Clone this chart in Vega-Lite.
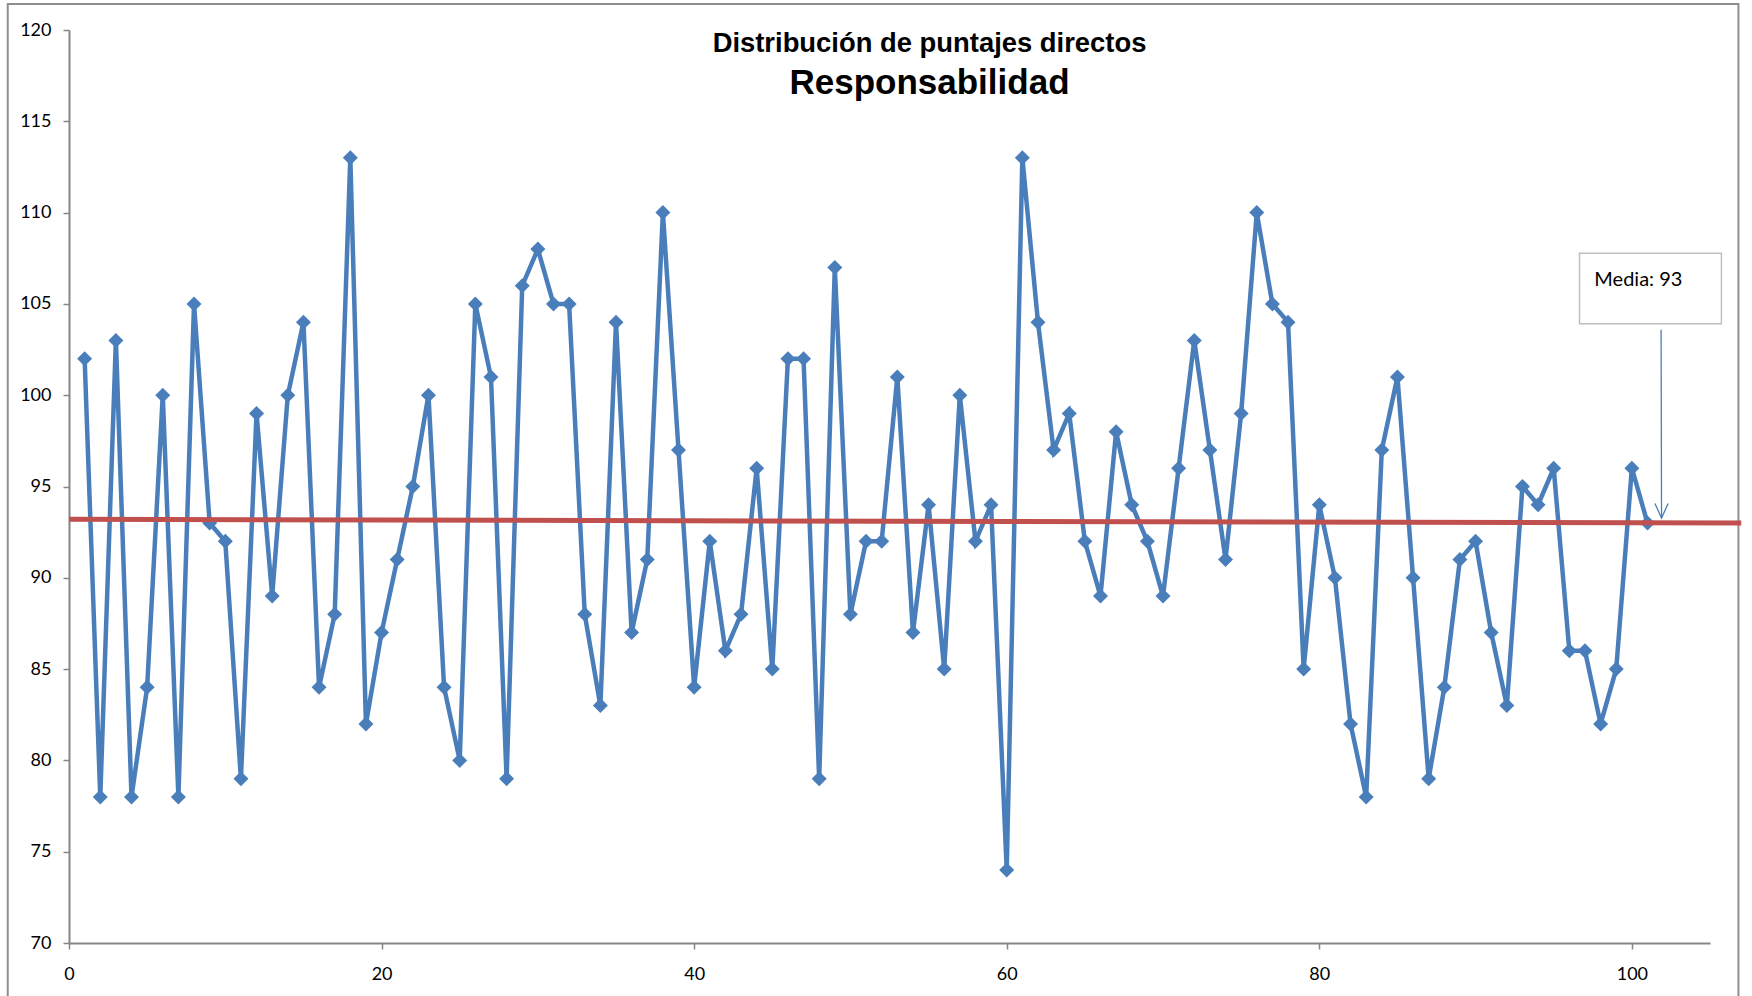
{
  "$schema": "https://vega.github.io/schema/vega-lite/v6.json",
  "width": 1641,
  "height": 913,
  "autosize": {"type": "none"},
  "padding": {"left": 69, "top": 30, "right": 42, "bottom": 53},
  "background": "white",
  "config": {"view": {"stroke": null}, "font": "Lato"},
  "title": {
    "text": "Distribución de puntajes directos",
    "subtitle": "Responsabilidad",
    "anchor": "middle",
    "frame": "group",
    "orient": "top",
    "offset": -98,
    "dx": 40,
    "font": "Liberation Sans",
    "fontSize": 27.4,
    "fontWeight": "bold",
    "color": "black",
    "subtitleFont": "Liberation Sans",
    "subtitleFontSize": 35,
    "subtitleFontWeight": "bold",
    "subtitleColor": "black",
    "subtitlePadding": 8
  },
  "datasets": {
    "scores": [
      {"sujeto": 1, "puntaje": 102}, {"sujeto": 2, "puntaje": 78}, {"sujeto": 3, "puntaje": 103}, {"sujeto": 4, "puntaje": 78}, {"sujeto": 5, "puntaje": 84},
      {"sujeto": 6, "puntaje": 100}, {"sujeto": 7, "puntaje": 78}, {"sujeto": 8, "puntaje": 105}, {"sujeto": 9, "puntaje": 93}, {"sujeto": 10, "puntaje": 92},
      {"sujeto": 11, "puntaje": 79}, {"sujeto": 12, "puntaje": 99}, {"sujeto": 13, "puntaje": 89}, {"sujeto": 14, "puntaje": 100}, {"sujeto": 15, "puntaje": 104},
      {"sujeto": 16, "puntaje": 84}, {"sujeto": 17, "puntaje": 88}, {"sujeto": 18, "puntaje": 113}, {"sujeto": 19, "puntaje": 82}, {"sujeto": 20, "puntaje": 87},
      {"sujeto": 21, "puntaje": 91}, {"sujeto": 22, "puntaje": 95}, {"sujeto": 23, "puntaje": 100}, {"sujeto": 24, "puntaje": 84}, {"sujeto": 25, "puntaje": 80},
      {"sujeto": 26, "puntaje": 105}, {"sujeto": 27, "puntaje": 101}, {"sujeto": 28, "puntaje": 79}, {"sujeto": 29, "puntaje": 106}, {"sujeto": 30, "puntaje": 108},
      {"sujeto": 31, "puntaje": 105}, {"sujeto": 32, "puntaje": 105}, {"sujeto": 33, "puntaje": 88}, {"sujeto": 34, "puntaje": 83}, {"sujeto": 35, "puntaje": 104},
      {"sujeto": 36, "puntaje": 87}, {"sujeto": 37, "puntaje": 91}, {"sujeto": 38, "puntaje": 110}, {"sujeto": 39, "puntaje": 97}, {"sujeto": 40, "puntaje": 84},
      {"sujeto": 41, "puntaje": 92}, {"sujeto": 42, "puntaje": 86}, {"sujeto": 43, "puntaje": 88}, {"sujeto": 44, "puntaje": 96}, {"sujeto": 45, "puntaje": 85},
      {"sujeto": 46, "puntaje": 102}, {"sujeto": 47, "puntaje": 102}, {"sujeto": 48, "puntaje": 79}, {"sujeto": 49, "puntaje": 107}, {"sujeto": 50, "puntaje": 88},
      {"sujeto": 51, "puntaje": 92}, {"sujeto": 52, "puntaje": 92}, {"sujeto": 53, "puntaje": 101}, {"sujeto": 54, "puntaje": 87}, {"sujeto": 55, "puntaje": 94},
      {"sujeto": 56, "puntaje": 85}, {"sujeto": 57, "puntaje": 100}, {"sujeto": 58, "puntaje": 92}, {"sujeto": 59, "puntaje": 94}, {"sujeto": 60, "puntaje": 74},
      {"sujeto": 61, "puntaje": 113}, {"sujeto": 62, "puntaje": 104}, {"sujeto": 63, "puntaje": 97}, {"sujeto": 64, "puntaje": 99}, {"sujeto": 65, "puntaje": 92},
      {"sujeto": 66, "puntaje": 89}, {"sujeto": 67, "puntaje": 98}, {"sujeto": 68, "puntaje": 94}, {"sujeto": 69, "puntaje": 92}, {"sujeto": 70, "puntaje": 89},
      {"sujeto": 71, "puntaje": 96}, {"sujeto": 72, "puntaje": 103}, {"sujeto": 73, "puntaje": 97}, {"sujeto": 74, "puntaje": 91}, {"sujeto": 75, "puntaje": 99},
      {"sujeto": 76, "puntaje": 110}, {"sujeto": 77, "puntaje": 105}, {"sujeto": 78, "puntaje": 104}, {"sujeto": 79, "puntaje": 85}, {"sujeto": 80, "puntaje": 94},
      {"sujeto": 81, "puntaje": 90}, {"sujeto": 82, "puntaje": 82}, {"sujeto": 83, "puntaje": 78}, {"sujeto": 84, "puntaje": 97}, {"sujeto": 85, "puntaje": 101},
      {"sujeto": 86, "puntaje": 90}, {"sujeto": 87, "puntaje": 79}, {"sujeto": 88, "puntaje": 84}, {"sujeto": 89, "puntaje": 91}, {"sujeto": 90, "puntaje": 92},
      {"sujeto": 91, "puntaje": 87}, {"sujeto": 92, "puntaje": 83}, {"sujeto": 93, "puntaje": 95}, {"sujeto": 94, "puntaje": 94}, {"sujeto": 95, "puntaje": 96},
      {"sujeto": 96, "puntaje": 86}, {"sujeto": 97, "puntaje": 86}, {"sujeto": 98, "puntaje": 82}, {"sujeto": 99, "puntaje": 85}, {"sujeto": 100, "puntaje": 96},
      {"sujeto": 101, "puntaje": 93}
    ],
    "media": [
      {"sujeto": 0, "puntaje": 93.2},
      {"sujeto": 107, "puntaje": 93.0}
    ]
  },
  "layer": [
    {
      "data": {"values": [{"marco": "grafico"}]},
      "mark": {"type": "rect", "fill": null, "fillOpacity": 0, "stroke": "#8e8e8e", "strokeWidth": 2},
      "encoding": {
        "x": {"datum": -3.92, "type": "quantitative"},
        "x2": {"datum": 106.82},
        "y": {"datum": 121.43, "type": "quantitative"},
        "y2": {"datum": 66.5}
      }
    },
    {
      "data": {"name": "scores"},
      "mark": {"type": "line", "color": "#4a7ebb", "strokeWidth": 4.5},
      "encoding": {
        "x": {
          "field": "sujeto",
          "type": "quantitative",
          "title": null,
          "scale": {"domain": [0, 105], "nice": false, "zero": false},
          "axis": {
            "values": [0, 20, 40, 60, 80, 100],
            "grid": false,
            "labelFlush": false,
            "domainColor": "#868686",
            "domainWidth": 2,
            "tickColor": "#868686",
            "tickWidth": 1.5,
            "tickSize": 6,
            "labelFont": "Lato",
            "labelFontSize": 18,
            "labelColor": "black",
            "labelPadding": 16
          }
        },
        "y": {
          "field": "puntaje",
          "type": "quantitative",
          "title": null,
          "scale": {"domain": [70, 120], "nice": false, "zero": false},
          "axis": {
            "values": [70, 75, 80, 85, 90, 95, 100, 105, 110, 115, 120],
            "grid": false,
            "domainColor": "#868686",
            "domainWidth": 2,
            "tickColor": "#868686",
            "tickWidth": 1.5,
            "tickSize": 6,
            "labelFont": "Lato",
            "labelFontSize": 18,
            "labelColor": "black",
            "labelPadding": 12
          }
        }
      }
    },
    {
      "data": {"name": "scores"},
      "mark": {"type": "point", "shape": "diamond", "filled": true, "size": 225, "color": "#4a7ebb", "opacity": 1},
      "encoding": {
        "x": {"field": "sujeto", "type": "quantitative", "title": null},
        "y": {"field": "puntaje", "type": "quantitative", "title": null}
      }
    },
    {
      "data": {"name": "media"},
      "mark": {"type": "line", "color": "#c0504d", "strokeWidth": 5},
      "encoding": {
        "x": {"field": "sujeto", "type": "quantitative", "title": null},
        "y": {"field": "puntaje", "type": "quantitative", "title": null}
      }
    },
    {
      "data": {"values": [{"etiqueta": "Media: 93"}]},
      "mark": {"type": "rect", "fill": "white", "stroke": "#bfbfbf", "strokeWidth": 1.5},
      "encoding": {
        "x": {"datum": 96.65, "type": "quantitative"},
        "x2": {"datum": 105.73},
        "y": {"datum": 107.77, "type": "quantitative"},
        "y2": {"datum": 103.91}
      }
    },
    {
      "data": {"values": [{"etiqueta": "Media: 93"}]},
      "mark": {"type": "text", "align": "left", "baseline": "middle", "font": "Lato", "fontSize": 20, "color": "black"},
      "encoding": {
        "x": {"datum": 97.6, "type": "quantitative"},
        "y": {"datum": 106.3, "type": "quantitative"},
        "text": {"field": "etiqueta"}
      }
    },
    {
      "data": {"values": [{"etiqueta": "Media: 93"}]},
      "mark": {"type": "rule", "color": "#4a7ebb", "strokeWidth": 1.3},
      "encoding": {
        "x": {"datum": 101.87, "type": "quantitative"},
        "x2": {"datum": 101.9},
        "y": {"datum": 103.58, "type": "quantitative"},
        "y2": {"datum": 93.27}
      }
    },
    {
      "data": {"values": [{"etiqueta": "Media: 93"}]},
      "mark": {"type": "point", "shape": "M-0.45,-1L0,0L0.45,-1", "filled": false, "stroke": "#4a7ebb", "strokeWidth": 1.3, "size": 864, "opacity": 1},
      "encoding": {
        "x": {"datum": 101.9, "type": "quantitative"},
        "y": {"datum": 93.27, "type": "quantitative"}
      }
    }
  ]
}
